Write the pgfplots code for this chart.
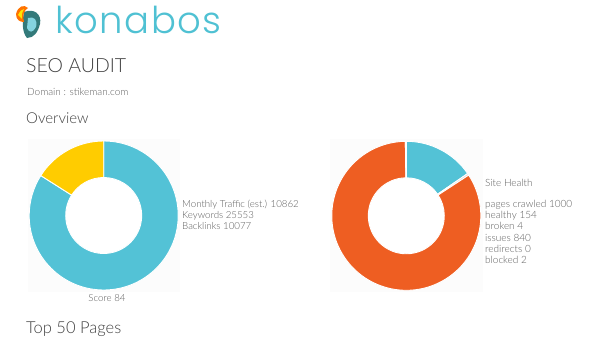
\documentclass[border=0pt]{standalone}
\usepackage{fontspec}
\setmainfont{Lato Light}
\newfontfamily\logofont[LetterSpace=4]{Poppins Light}
\usepackage{pgfplots}
\usepackage{pgfplotstable}
\pgfplotsset{compat=1.18}
\definecolor{dcyan}{HTML}{53C2D6}
\definecolor{dyellow}{HTML}{FFCC00}
\definecolor{dorange}{HTML}{EE5E22}
\definecolor{dthin}{HTML}{DCCFCF}
\definecolor{txtdark}{HTML}{404040}
\definecolor{txtgray}{HTML}{5E5E5E}
\definecolor{logocyan}{HTML}{4FC1D3}
\definecolor{bgpanel}{HTML}{FCFCFC}

% donut segment mark: value and offset (in percent of the total) come from the table
\pgfdeclareplotmark{donutseg}{%
  \pgfmathsetmacro\angA{90-3.6*\segoff}%
  \pgfmathsetmacro\angB{90-3.6*(\segoff+\segval)}%
  \pgfpathmoveto{\pgfpointpolar{\angA}{74.5pt}}%
  \pgfpatharc{\angA}{\angB}{74.5pt}%
  \pgfpathlineto{\pgfpointpolar{\angB}{38pt}}%
  \pgfpatharc{\angB}{\angA}{38pt}%
  \pgfpathclose
  \pgfusepathqfillstroke
}

% Score donut (percent)
\pgfplotstableread{
x y value offset
103.7 215.5 84 0
}\scoreA
\pgfplotstableread{
x y value offset
103.7 215.5 16 84
}\scoreB
% Site health donut (pages of 1000, as percent)
\pgfplotstableread{
x y value offset
406.3 215.8 15.4 0
}\healthy
\pgfplotstableread{
x y value offset
406.3 215.8 0.4 15.4
}\broken
\pgfplotstableread{
x y value offset
406.3 215.8 84.0 15.8
}\issues
\pgfplotstableread{
x y value offset
406.3 215.8 0.2 99.8
}\blocked

\pgfplotsset{
  donut/.style={only marks, mark=donutseg,
    visualization depends on={\thisrow{value} \as \segval},
    visualization depends on={\thisrow{offset} \as \segoff},
    mark options={fill=#1, draw=white, line width=0.9pt}},
}

\begin{document}
\begin{tikzpicture}
\begin{axis}[
  width=600pt, height=340pt, scale only axis,
  xmin=0, xmax=600, ymin=0, ymax=340, y dir=reverse,
  hide axis, clip=false,
]
\fill[white] (axis cs:0,0) rectangle (axis cs:600,340);
\fill[bgpanel] (axis cs:28,139) rectangle (axis cs:180,292);
\fill[bgpanel] (axis cs:330,139) rectangle (axis cs:483,292);
\fill[white] (axis cs:103.7,215.5) circle[radius=38pt];
\fill[white] (axis cs:406.3,215.8) circle[radius=38pt];

% logo
\fill[teal!70!black!80] (axis cs:24,12) .. controls (axis cs:34,8) and (axis cs:42,14) .. (axis cs:40,24)
  .. controls (axis cs:38,32) and (axis cs:34,38) .. (axis cs:27,38)
  .. controls (axis cs:22,32) and (axis cs:22,22) .. cycle;
\fill[logocyan!70] (axis cs:28,18) .. controls (axis cs:34,16) and (axis cs:38,20) .. (axis cs:36,27)
  .. controls (axis cs:33,33) and (axis cs:29,33) .. (axis cs:27,28) -- cycle;
\fill[orange!90!red] (axis cs:16,14) .. controls (axis cs:18,6) and (axis cs:24,4) .. (axis cs:28,8)
  .. controls (axis cs:24,10) and (axis cs:22,16) .. (axis cs:24,22)
  .. controls (axis cs:20,22) and (axis cs:16,20) .. cycle;
\fill[yellow!90!orange] (axis cs:18,15) .. controls (axis cs:20,11) and (axis cs:22,9) .. (axis cs:24,9)
  .. controls (axis cs:22,13) and (axis cs:21,16) .. (axis cs:22,19) -- cycle;
\node[anchor=base west, inner sep=0pt, text=logocyan, font=\logofont\fontsize{37}{40}\selectfont]
  at (axis cs:55,34) {konabos};

% headings
\node[anchor=base west, inner sep=0pt, text=txtdark, font=\fontsize{19.5}{23}\selectfont]
  at (axis cs:26,72) {SEO AUDIT};
\node[anchor=base west, inner sep=0pt, text=txtgray, font=\fontsize{10}{12}\selectfont]
  at (axis cs:27,95) {Domain : stikeman.com};
\node[anchor=base west, inner sep=0pt, text=txtdark, font=\fontsize{15}{18}\selectfont]
  at (axis cs:26,123) {Overview};
\node[anchor=base west, inner sep=0pt, text=txtdark, font=\fontsize{16.5}{19}\selectfont]
  at (axis cs:26,333) {Top 50 Pages};

% donuts
\addplot[donut=dcyan] table[x=x, y=y] {\scoreA};
\addplot[donut=dyellow] table[x=x, y=y] {\scoreB};
\addplot[donut=dcyan] table[x=x, y=y] {\healthy};
\addplot[donut=dthin] table[x=x, y=y] {\broken};
\addplot[donut=dorange] table[x=x, y=y] {\issues};
\addplot[donut=dthin] table[x=x, y=y] {\blocked};

% legends
\begin{scope}[every node/.style={anchor=base west, inner sep=0pt, text=txtgray, font=\fontsize{9.7}{12}\selectfont}]
\node at (axis cs:182,207.5) {Monthly Traffic (est.) 10862};
\node at (axis cs:182,218.7) {Keywords 25553};
\node at (axis cs:182,229.9) {Backlinks 10077};
\node[anchor=base] at (axis cs:107,301.5) {Score 84};
\end{scope}
\begin{scope}[every node/.style={anchor=base west, inner sep=0pt, text=txtgray, font=\fontsize{10}{12}\selectfont}]
\node at (axis cs:485,186.5) {Site Health};
\node at (axis cs:485,207.5) {pages crawled 1000};
\node at (axis cs:485,218.7) {healthy 154};
\node at (axis cs:485,229.9) {broken 4};
\node at (axis cs:485,241.1) {issues 840};
\node at (axis cs:485,252.3) {redirects 0};
\node at (axis cs:485,263.5) {blocked 2};
\end{scope}
\end{axis}
\end{tikzpicture}
\end{document}
